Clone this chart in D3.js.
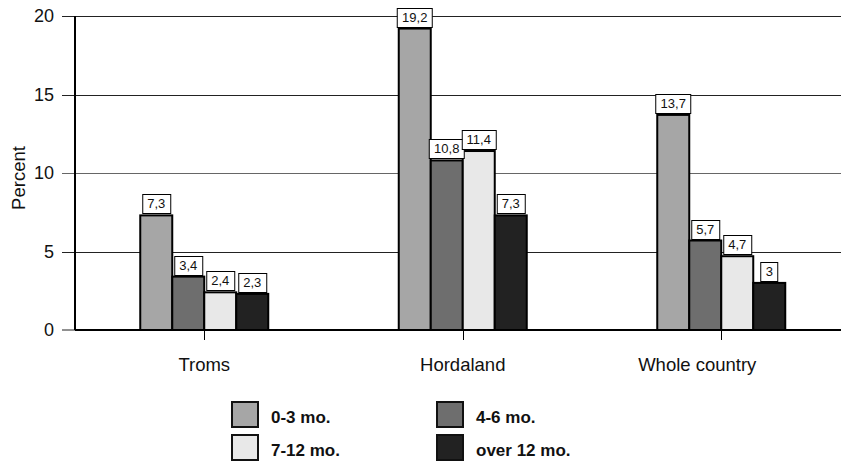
<!DOCTYPE html>
<html>
<head>
<meta charset="utf-8">
<script src="https://cdn.jsdelivr.net/npm/d3@7"></script>
<style>
  html, body { margin: 0; padding: 0; background: #fff; }
  svg { display: block; font-family: "Liberation Sans", Arial, sans-serif; }
</style>
</head>
<body>
<svg id="chart" width="841" height="463"></svg>
<script>
// Share of unemployed by duration, per region
const regions = ["Troms", "Hordaland", "Whole country"];
const durations = ["0-3 mo.", "4-6 mo.", "7-12 mo.", "over 12 mo."];
const values0to3 = [7.3, 19.2, 13.7];
const values4to6 = [3.4, 10.8, 5.7];
const values7to12 = [2.4, 11.4, 4.7];
const valuesOver12 = [2.3, 7.3, 3];
const yTicks = [0, 5, 10, 15, 20];
const colors = ["#a6a6a6", "#6e6e6e", "#e8e8e8", "#222222"];

const seriesValues = [values0to3, values4to6, values7to12, valuesOver12];
const rows = regions.map((r, i) => ({
  region: r,
  vals: durations.map((d, j) => ({ key: d, idx: j, value: seriesValues[j][i] }))
}));

const svg = d3.select("#chart");
const plotLeft = 75, plotTop = 16, plotBottom = 330;
const x0 = d3.scaleBand().domain(regions).range([plotLeft, plotLeft + 3 * 258.5]).paddingInner(0).paddingOuter(0);
const groupWidth = 128;
const x1 = d3.scaleBand().domain(durations).range([0, groupWidth]).padding(0);
const y = d3.scaleLinear().domain([0, 20]).range([plotBottom, plotTop]);

// horizontal gridlines with left tick stubs
svg.append("g").selectAll("line").data(yTicks.filter(t => t > 0)).join("line")
  .attr("x1", 62).attr("x2", 841)
  .attr("y1", d => Math.round(y(d)) + 0.5).attr("y2", d => Math.round(y(d)) + 0.5)
  .attr("stroke", d => d === 10 ? "#666" : "#222").attr("stroke-width", 1);
svg.append("line").attr("x1", 62).attr("x2", plotLeft)
  .attr("y1", y(0)).attr("y2", y(0)).attr("stroke", "#222");

// y tick labels
svg.append("g").selectAll("text").data(yTicks).join("text")
  .attr("x", 54).attr("y", d => y(d)).attr("dy", "0.36em")
  .attr("text-anchor", "end").attr("font-size", 18).attr("fill", "#111")
  .text(d => d);

// y title
svg.append("text")
  .attr("transform", `translate(25,178) rotate(-90)`)
  .attr("text-anchor", "middle").attr("font-size", 18.5).attr("fill", "#111")
  .text("Percent");

// bars
const groups = svg.append("g").selectAll("g").data(rows).join("g")
  .attr("transform", d => `translate(${x0(d.region) + x0.bandwidth() / 2 - groupWidth / 2},0)`);

groups.selectAll("rect").data(d => d.vals).join("rect")
  .attr("x", d => x1(d.key))
  .attr("y", d => y(d.value))
  .attr("width", x1.bandwidth())
  .attr("height", d => y(0) - y(d.value))
  .attr("fill", d => colors[d.idx])
  .attr("stroke", "#000").attr("stroke-width", 2);

// value boxes
const fmt = v => String(v).replace(".", ",");
groups.each(function (g) {
  const gs = d3.select(this);
  g.vals.forEach(d => {
    const cx = x1(d.key) + x1.bandwidth() / 2;
    const boxBottom = Math.round(y(d.value)) - 2;
    const t = gs.append("text")
      .attr("x", cx).attr("y", boxBottom - 5)
      .attr("text-anchor", "middle").attr("font-size", 13).attr("fill", "#111")
      .text(fmt(d.value));
    const bb = t.node().getBBox();
    gs.insert("rect", () => t.node())
      .attr("x", Math.round(bb.x - 5) + 0.5).attr("y", boxBottom - 19 + 0.5)
      .attr("width", Math.round(bb.width + 10)).attr("height", 19)
      .attr("fill", "#fff").attr("stroke", "#000").attr("stroke-width", 1);
  });
});

// axis lines
svg.append("line").attr("x1", plotLeft).attr("x2", 841).attr("y1", y(0)).attr("y2", y(0))
  .attr("stroke", "#000").attr("stroke-width", 2);
svg.append("line").attr("x1", plotLeft).attr("x2", plotLeft).attr("y1", plotTop).attr("y2", y(0))
  .attr("stroke", "#000").attr("stroke-width", 2);

// category ticks and labels
svg.append("g").selectAll("line").data(regions).join("line")
  .attr("x1", d => Math.round(x0(d) + x0.bandwidth() / 2) + 0.5)
  .attr("x2", d => Math.round(x0(d) + x0.bandwidth() / 2) + 0.5)
  .attr("y1", y(0)).attr("y2", y(0) + 10).attr("stroke", "#000");
svg.append("g").selectAll("text").data(regions).join("text")
  .attr("x", (d, i) => x0(d) + x0.bandwidth() / 2 - (i === 2 ? 24 : 0))
  .attr("y", 371).attr("text-anchor", "middle").attr("font-size", 18.5).attr("fill", "#111")
  .text(d => d);

// legend
const legendPos = [[231, 401], [436, 401], [231, 434], [436, 434]];
const lg = svg.append("g").selectAll("g").data(durations).join("g")
  .attr("transform", (d, i) => `translate(${legendPos[i][0]},${legendPos[i][1]})`);
lg.append("rect").attr("x", 1).attr("y", 1).attr("width", 26).attr("height", 25)
  .attr("fill", (d, i) => colors[i]).attr("stroke", "#111").attr("stroke-width", 2);
lg.append("text").attr("x", 40).attr("y", 22)
  .attr("font-size", 17).attr("font-weight", "bold").attr("fill", "#111")
  .text(d => d);
</script>
</body>
</html>
